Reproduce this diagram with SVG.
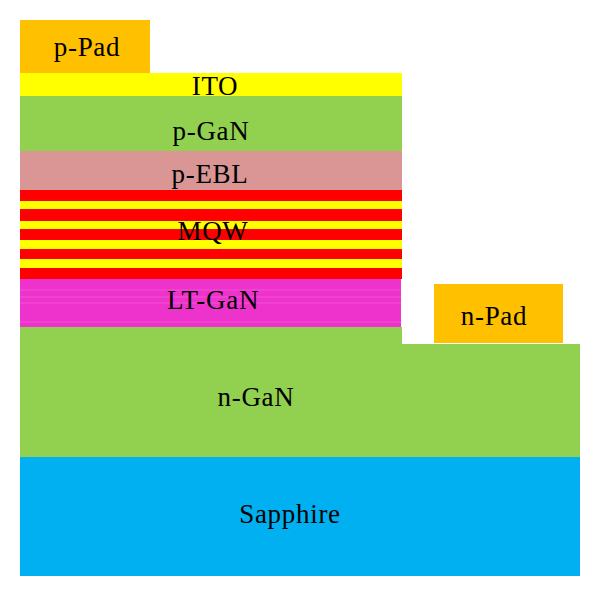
<svg xmlns="http://www.w3.org/2000/svg" width="600" height="596" viewBox="0 0 600 596">
<style>
text{font-family:"Liberation Serif","Times New Roman",serif;font-size:27px;letter-spacing:0.7px;fill:#000;text-anchor:middle}
.pad{fill:#FFC000}
.ito{fill:#FFFF00}
.gan{fill:#92D050}
.ebl{fill:#D99694}
.red{fill:#FF0000}
.lt{fill:#EE33CC}
.ltl{stroke:#F25AD6;stroke-width:0.8}
.sap{fill:#00B0F0}
</style>
<rect width="600" height="596" fill="#FFFFFF"/>
<g id="sapphire">
<rect class="sap" x="20" y="457" width="560" height="119"/>
<text x="290" y="523">Sapphire</text>
</g>
<g id="n-GaN">
<path class="gan" d="M20 327H402V344H580V457H20Z"/>
<text x="256" y="406">n-GaN</text>
</g>
<g id="n-Pad">
<rect class="pad" x="434" y="284" width="129" height="59"/>
<text x="494" y="325">n-Pad</text>
</g>
<g id="LT-GaN">
<rect class="lt" x="20" y="279" width="381" height="48"/>
<line class="ltl" x1="20" y1="290" x2="401" y2="290"/>
<line class="ltl" x1="20" y1="297" x2="401" y2="297"/>
<line class="ltl" x1="20" y1="303" x2="401" y2="303"/>
<line class="ltl" x1="20" y1="322" x2="401" y2="322"/>
<text x="213" y="309">LT-GaN</text>
</g>
<g id="MQW">
<rect class="red" x="20" y="190" width="382" height="89"/>
<rect class="ito" x="20" y="201" width="382" height="8"/>
<rect class="ito" x="20" y="221" width="382" height="8"/>
<rect class="ito" x="20" y="240" width="382" height="9"/>
<rect class="ito" x="20" y="259" width="382" height="9"/>
<text x="213" y="240">MQW</text>
</g>
<g id="p-EBL">
<rect class="ebl" x="20" y="151" width="382" height="39"/>
<text x="210" y="183">p-EBL</text>
</g>
<g id="p-GaN">
<rect class="gan" x="20" y="96" width="382" height="55"/>
<text x="211" y="140">p-GaN</text>
</g>
<g id="ITO">
<rect class="ito" x="20" y="73" width="382" height="23"/>
<text x="215" y="95">ITO</text>
</g>
<g id="p-Pad">
<rect class="pad" x="20" y="20" width="130" height="53"/>
<text x="87" y="56">p-Pad</text>
</g>
</svg>
